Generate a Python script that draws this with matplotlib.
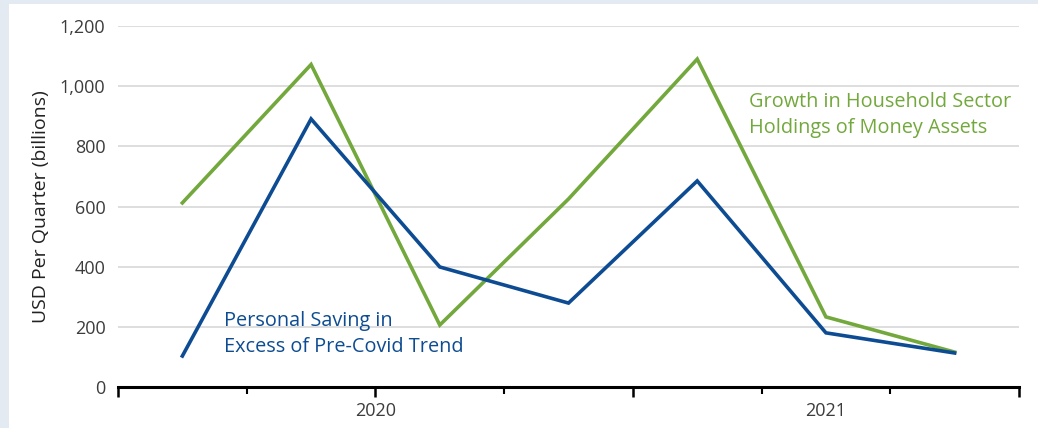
import matplotlib
matplotlib.use("Agg")
import matplotlib.pyplot as plt
from matplotlib.patches import Rectangle
from matplotlib.ticker import FuncFormatter

# Data
quarters_x = [0.5, 1.5, 2.5, 3.5, 4.5, 5.5, 6.5]
money_assets = [612, 1072, 206, 625, 1090, 233, 116]
excess_saving = [103, 891, 399, 279, 685, 180, 113]
year_labels = ["2020", "2021"]
year_label_pos = [2.0, 5.5]
y_ticks = [0, 200, 400, 600, 800, 1000, 1200]

GREEN = "#72a83c"
BLUE = "#0d4c92"
TXT = "#3c3c3c"

plt.rcParams['font.family'] = ['Open Sans', 'DejaVu Sans']

fig = plt.figure(figsize=(10.38, 4.28), dpi=100)
fig.patch.set_facecolor("#e3eaf1")
fig.add_artist(Rectangle((9/1038, 0), 1 - 9/1038, 1 - 4/428, transform=fig.transFigure,
                         facecolor="white", edgecolor="none", zorder=-10))

ax = fig.add_axes([118/1038, (428-387)/428, (1019-118)/1038, (387-26)/428])
ax.set_zorder(1)
ax.set_facecolor("none")
ax.set_xlim(0, 7)
ax.set_ylim(0, 1200)

for s in ["top", "right", "left"]:
    ax.spines[s].set_visible(False)
ax.spines["bottom"].set_linewidth(2.2)
ax.spines["bottom"].set_color("black")

ax.set_yticks(y_ticks)
ax.yaxis.set_major_formatter(FuncFormatter(lambda v, p: f"{int(v):,}"))
ax.tick_params(axis="y", length=0, pad=9, labelsize=13, labelcolor=TXT)
ax.grid(axis="y", color="#d4d4d4", linewidth=1.1)
ax.set_axisbelow(True)

ax.set_xticks([0, 2, 4, 7])
ax.set_xticks([1, 3, 5, 6], minor=True)
ax.tick_params(axis="x", which="major", length=7, width=1.8, color="black", labelbottom=False)
ax.tick_params(axis="x", which="minor", length=5, width=1.5, color="black")
for lab, pos in zip(year_labels, year_label_pos):
    ax.text(pos, -80, lab, ha="center", va="center", fontsize=13, color=TXT)

ax.set_ylabel("USD Per Quarter (billions)", fontsize=14, color="#222222")
ax.yaxis.set_label_coords(-0.0755, 0.5)

ax.plot(quarters_x, money_assets, color=GREEN, linewidth=2.6, solid_joinstyle="miter", zorder=3)
ax.plot(quarters_x, excess_saving, color=BLUE, linewidth=2.6, solid_joinstyle="miter", zorder=3)

ax.text(4.9, 904, "Growth in Household Sector\nHoldings of Money Assets", color=GREEN,
        fontsize=14.3, ha="left", va="center", linespacing=1.45)
ax.text(0.82, 176, "Personal Saving in\nExcess of Pre-Covid Trend", color=BLUE,
        fontsize=14.3, ha="left", va="center", linespacing=1.35)

fig.savefig("out.png", dpi=100, facecolor=fig.get_facecolor())
